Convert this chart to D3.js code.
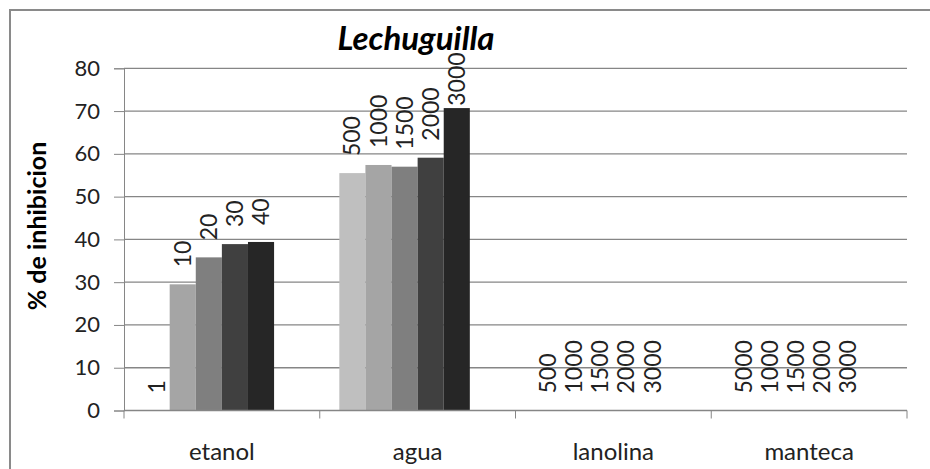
<!DOCTYPE html>
<html>
<head>
<meta charset="utf-8">
<script src="https://cdn.jsdelivr.net/npm/d3@7"></script>
<style>
  html, body { margin: 0; padding: 0; background: #fff; }
  svg { display: block; }
  text { font-family: Lato, "Open Sans", sans-serif; }
</style>
</head>
<body>
<svg id="chart" width="930" height="469"></svg>
<script>
// ---- data ----
const categories = ["etanol", "agua", "lanolina", "manteca"];
const seriesNames = ["s1", "s2", "s3", "s4", "s5", "s6"];
const s1 = [0, 55.5, 0, 0];
const s2 = [29.5, 57.4, 0, 0];
const s3 = [35.8, 57.0, 0, 0];
const s4 = [38.9, 59.1, 0, 0];
const s5 = [39.4, 70.7, 0, 0];
const s6 = [null, null, null, null];
const labelsEtanol = ["1", "10", "20", "30", "40"];
const labelsAgua = ["500", "1000", "1500", "2000", "3000"];
const labelsLanolina = ["500", "1000", "1500", "2000", "3000"];
const labelsManteca = ["5000", "1000", "1500", "2000", "3000"];
const yTicks = [0, 10, 20, 30, 40, 50, 60, 70, 80];
const title = "Lechuguilla";
const yTitle = "% de inhibicion";

const seriesValues = [s1, s2, s3, s4, s5, s6];
const pointLabels = [labelsEtanol, labelsAgua, labelsLanolina, labelsManteca];
const seriesColors = ["#bfbfbf", "#a5a5a5", "#7f7f7f", "#404040", "#262626", "none"];

// ---- layout ----
const svg = d3.select("#chart");
const mLeft = 124, mRight = 907, mTop = 68.3, mBottom = 410.5;

// outer frame (right/bottom cut off)
svg.append("rect").attr("x", 10).attr("y", 10).attr("width", 940).attr("height", 480)
  .attr("fill", "none").attr("stroke", "#8a8a8a").attr("stroke-width", 2);

const y = d3.scaleLinear().domain([0, 80]).range([mBottom, mTop]);
const x0 = d3.scaleBand().domain(categories).range([mLeft, mRight]).padding(0);
const bw = x0.bandwidth();
const gap = bw * 0.1;
const x1 = d3.scaleBand().domain(seriesNames).range([gap, bw - gap]).padding(0);

// gridlines + y axis
const yAxis = d3.axisLeft(y).tickValues(yTicks).tickSize(10).tickPadding(14).tickFormat(d3.format("d"));
const gy = svg.append("g").attr("transform", `translate(${mLeft},0)`).call(yAxis);
gy.select(".domain").attr("stroke", "#868686");
gy.selectAll(".tick line").attr("stroke", "#868686");
gy.selectAll(".tick text").attr("fill", "#222").style("font-size", "22px").style("font-family", "Lato");

svg.append("g").selectAll("line.grid").data(yTicks.filter(d => d > 0)).join("line")
  .attr("x1", mLeft).attr("x2", mRight)
  .attr("y1", d => y(d)).attr("y2", d => y(d))
  .attr("stroke", "#868686").attr("stroke-width", 1.3);

// bars
const groups = svg.append("g").selectAll("g").data(categories).join("g")
  .attr("transform", d => `translate(${x0(d)},0)`);

groups.each(function(cat, ci) {
  const g = d3.select(this);
  seriesNames.forEach((sn, si) => {
    const v = seriesValues[si][ci];
    if (v == null) return;
    if (v > 0) {
      g.append("rect")
        .attr("x", x1(sn)).attr("width", x1.bandwidth())
        .attr("y", y(v)).attr("height", y(0) - y(v))
        .attr("fill", seriesColors[si]);
    }
    const lbl = pointLabels[ci][si];
    if (lbl !== undefined) {
      const ly = Math.max(y(v) - 17, 53 + lbl.length * 13.2);
      const lx = x1(sn) + x1.bandwidth() / 2;
      g.append("text")
        .attr("transform", `translate(${lx},${ly}) rotate(-90)`)
        .attr("dy", "0.35em")
        .attr("fill", "#222")
        .style("font-size", "23px")
        .text(lbl);
    }
  });
});

// x axis
const xAxisLine = svg.append("g");
xAxisLine.append("line").attr("x1", mLeft).attr("x2", mRight).attr("y1", mBottom).attr("y2", mBottom)
  .attr("stroke", "#868686").attr("stroke-width", 1.3);
const bounds = categories.map(c => x0(c)).concat([mRight]);
xAxisLine.selectAll("line.tk").data(bounds).join("line")
  .attr("x1", d => d).attr("x2", d => d).attr("y1", mBottom).attr("y2", mBottom + 8)
  .attr("stroke", "#868686");
xAxisLine.selectAll("text").data(categories).join("text")
  .attr("x", d => x0(d) + bw / 2).attr("y", 460)
  .attr("text-anchor", "middle").attr("fill", "#222")
  .style("font-size", "24px")
  .text(d => d);

// titles
svg.append("text").attr("x", 416).attr("y", 50).attr("text-anchor", "middle")
  .style("font-size", "33px").style("font-weight", "bold").style("font-style", "italic")
  .attr("fill", "#000").text(title);

svg.append("text").attr("transform", "translate(46,226) rotate(-90)")
  .attr("text-anchor", "middle")
  .style("font-size", "25px").style("font-weight", "bold").attr("fill", "#000")
  .text(yTitle);
</script>
</body>
</html>
